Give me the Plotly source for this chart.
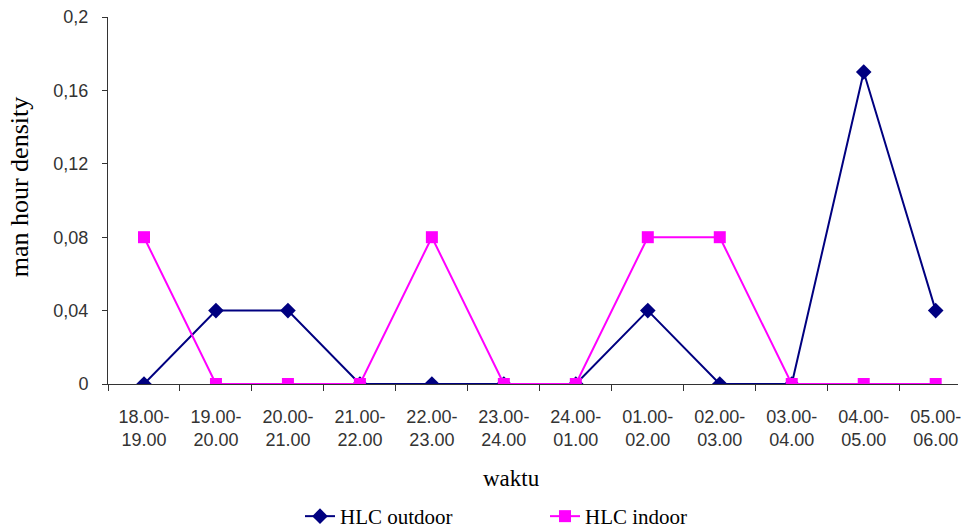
import plotly.graph_objects as go

# Hourly time slots (start-end)
waktu = ["18.00-<br>19.00", "19.00-<br>20.00", "20.00-<br>21.00", "21.00-<br>22.00",
         "22.00-<br>23.00", "23.00-<br>24.00", "24.00-<br>01.00", "01.00-<br>02.00",
         "02.00-<br>03.00", "03.00-<br>04.00", "04.00-<br>05.00", "05.00-<br>06.00"]

# Man hour density per slot
hlc_outdoor = [0, 0.04, 0.04, 0, 0, 0, 0, 0.04, 0, 0, 0.17, 0.04]
hlc_indoor = [0.08, 0, 0, 0, 0.08, 0, 0, 0.08, 0.08, 0, 0, 0]

y_ticks = [0, 0.04, 0.08, 0.12, 0.16, 0.2]

# plot area in pixels: left 108, right 961, top 17, bottom 384
PL, PW, PT, PH = 108, 853, 17, 367


def px(x):
    return (x - PL) / PW


def py(y):
    return (PT + PH - y) / PH


fig = go.Figure()
fig.add_trace(go.Scatter(
    x=waktu, y=hlc_outdoor, name="HLC outdoor", mode="lines+markers",
    line=dict(color="#000080", width=2),
    marker=dict(symbol="diamond", size=12, color="#000080"),
))
fig.add_trace(go.Scatter(
    x=waktu, y=hlc_indoor, name="HLC indoor", mode="lines+markers",
    line=dict(color="#FF00FF", width=2),
    marker=dict(symbol="square", size=12, color="#FF00FF"),
))

fig.update_layout(
    width=961, height=525,
    margin=dict(l=108, r=0, t=17, b=141),
    plot_bgcolor="white", paper_bgcolor="white",
    separators=",.",
    font=dict(family="Liberation Sans, Arial", color="#222"),
    showlegend=True,
    legend=dict(
        orientation="h", xref="container", yref="container",
        x=300 / 961, xanchor="left", y=1 - 496 / 525, yanchor="top",
        font=dict(family="Liberation Serif, Times New Roman", size=21, color="#000"),
        entrywidth=200, entrywidthmode="pixels",
    ),
    xaxis=dict(
        type="category", range=[-0.5, 11.31],
        showline=True, linecolor="#333", linewidth=1,
        ticks="outside", ticklen=6, tickcolor="#333", tickson="boundaries",
        tickfont=dict(size=18, color="#333"), ticklabelstandoff=16,
        showgrid=False, zeroline=False,
    ),
    yaxis=dict(
        range=[0, 0.2], tickvals=y_ticks,
        showline=True, linecolor="#333", linewidth=1,
        ticks="outside", ticklen=5, tickcolor="#333",
        tickfont=dict(size=18, color="#333"), ticklabelstandoff=10,
        showgrid=False, zeroline=False,
    ),
    annotations=[
        dict(text="man hour density", textangle=-90, xref="paper", yref="paper",
             x=px(20), y=py(187), xanchor="center", yanchor="middle", showarrow=False,
             font=dict(family="Liberation Serif, Times New Roman", size=26, color="#000")),
        dict(text="waktu", xref="paper", yref="paper",
             x=px(513), y=py(478), xanchor="center", yanchor="middle", showarrow=False,
             font=dict(family="Liberation Serif, Times New Roman", size=23, color="#000")),
    ],
)

fig.write_html("out.html")
